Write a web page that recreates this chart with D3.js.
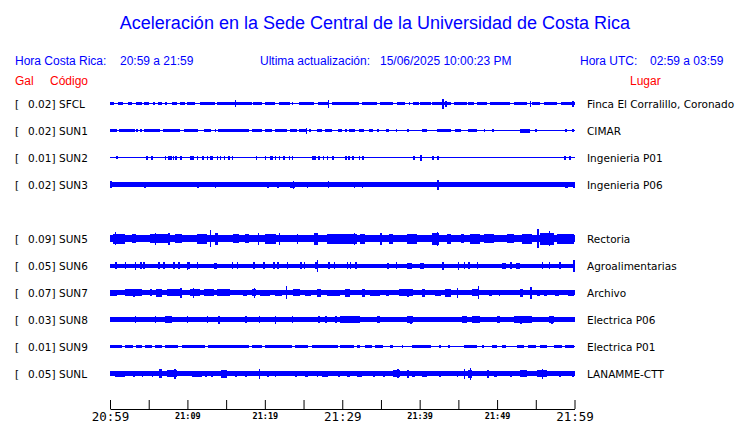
<!DOCTYPE html>
<html><head><meta charset="utf-8">
<script src="https://cdn.jsdelivr.net/npm/d3@7"></script>
<style>body{margin:0;background:#fff}svg{display:block}</style>
</head><body>
<svg id="c" width="740" height="423"></svg>
<script>
// ---------- data ----------
const title = "Aceleración en la Sede Central de la Universidad de Costa Rica";
const headerLabels = ["Hora Costa Rica:", "20:59 a 21:59", "Ultima actualización:", "15/06/2025 10:00:23 PM", "Hora UTC:", "02:59 a 03:59"];
const columnLabels = ["Gal", "Código", "Lugar"];
const codes  = ["SFCL","SUN1","SUN2","SUN3","SUN5","SUN6","SUN7","SUN8","SUN9","SUNL"];
const rowSlots = [0,1,2,3,5,6,7,8,9,10];   // slot 4 (SUN4) has no trace
const gal    = [0.02,0.02,0.01,0.02,0.09,0.05,0.07,0.03,0.01,0.05];
const places = ["Finca El Corralillo, Coronado","CIMAR","Ingenieria P01","Ingenieria P06","Rectoria","Agroalimentarias","Archivo","Electrica P06","Electrica P01","LANAMME-CTT"];
// continuous background amplitude of each trace (relative units)
const baseAmp = [0.5,0.5,0.6,2.2,3.8,2.0,2.2,2.8,0.8,2.2];
// activity: [start minute, end minute, amplitude] (minutes after 20:59)
const sfcl = [[0,0.5,1.6],[1.0,1.7,1.6],[2.3,2.9,1.6],[3.4,4.1,1.6],[4.4,5.0,1.6],[5.6,5.8,1.6],[6.25,6.7,1.6],[7.1,7.3,1.6],[8.0,8.6,1.6],[9.1,9.7,1.6],[9.9,11.0,1.6],[11.6,13.6,1.6],[13.8,18.3,1.6],[16.1,16.1,3.5],[18.5,19.6,1.6],[20.0,21.3,1.6],[21.8,23.3,1.6],[23.5,23.7,1.6],[24.4,26.3,1.6],[26.9,28.2,1.6],[28.1,28.1,4],[28.7,30.4,1.6],[29.7,32.1,1.6],[32.5,34.5,1.6],[34.9,36.6,1.6],[37.1,38.1,1.6],[38.6,38.8,1.6],[39.2,39.9,1.6],[40.1,41.4,1.6],[41.6,44.0,1.8],[42.9,42.9,5],[43.3,43.3,3],[44.4,46.1,1.6],[46.3,47.0,1.6],[47.4,48.7,1.6],[49.1,51.7,1.6],[52.2,53.9,1.6],[54.2,54.2,3],[54.5,55.6,1.6],[56.0,57.8,1.6],[58.2,60,1.6],[59.7,59.7,3]];
const sun1 = [[0,0.9,1.6],[1.1,3.2,1.6],[3.4,3.6,1.6],[3.9,4.1,1.6],[4.4,6.5,1.6],[6.9,9.1,1.6],[9.5,11.4,1.6],[12.1,13.1,1.6],[13.5,13.7,1.6],[14.0,17.9,1.6],[18.3,19.6,1.6],[20.0,20.9,1.6],[21.3,22.8,1.6],[23.3,24.1,1.6],[24.4,25.4,1.6],[25.3,25.3,3],[25.7,25.9,1.6],[26.7,27.4,1.6],[27.8,28.7,1.6],[29.5,30.0,1.6],[30.4,30.6,1.6],[30.9,31.7,1.6],[32.1,32.8,1.6],[33.4,34.0,1.6],[34.5,34.5,1.6],[35.7,36.0,1.6],[36.9,36.9,1.6],[38.4,38.4,1.6],[40.3,41.0,1.6],[42.2,44.0,1.6],[44.6,45.3,1.6],[46.3,47.4,1.6],[48.3,48.3,1.6],[49.4,49.6,1.6],[53.0,54.3,2],[54.9,55.2,1.6],[58.8,58.8,1.6],[59.7,59.7,1.6]];
const sun2 = [[0.8,1.0,1.5],[4.7,4.7,2],[5.3,5.3,2],[7.1,7.1,2],[7.5,7.5,2],[7.8,7.8,2],[8.1,8.1,2],[8.4,8.4,2],[9.1,9.1,2],[10.3,10.8,2],[11.2,11.2,2],[11.9,11.9,2],[12.5,12.5,2],[12.9,12.9,2],[13.1,13.1,2],[13.8,13.8,2],[14.2,14.2,2],[14.7,14.7,2],[15.3,15.3,2],[15.7,15.7,2],[18.8,18.8,2],[20.0,20.0,2],[20.7,20.7,2],[20.9,20.9,2],[21.3,21.3,2],[21.8,21.8,2],[22.4,22.4,2],[23.1,23.1,2],[23.5,23.5,2],[26.1,26.1,2],[26.4,26.4,2],[26.9,26.9,2],[27.5,27.5,2],[28.0,28.0,2],[28.7,28.7,2],[30.4,30.4,2],[30.8,30.8,2],[31.3,31.3,2],[32.1,32.1,2],[32.6,32.6,2],[39.2,39.2,2],[40.1,40.1,3],[41.6,41.6,2],[42.3,42.3,2],[58.7,58.7,2],[59.3,59.3,2]];
const sun3 = [[0,0,3.5],[4.4,4.4,3],[11.3,11.3,3],[13.5,13.5,3],[20.3,20.3,3],[21.6,21.6,3],[23.3,23.9,3],[23.6,23.6,4],[25.4,25.4,3],[28.1,28.1,3.5],[31.5,31.5,3],[32.5,32.5,3],[42.3,42.3,5],[58.8,59.1,3],[60,60,3]];
const sun5 = [[0.4,1.9,5],[0.6,0.6,6.5],[2.8,3.4,4.5],[5.2,7.7,4.5],[5.8,5.8,6],[7.5,7.5,6],[8.4,9.3,4.5],[11.2,12.5,5],[12.9,13.1,8.5],[13.6,14.0,6],[15.9,16.6,4.5],[17.5,17.9,4.5],[19.1,19.1,6],[20.0,21.5,5],[21.8,21.8,6],[24.1,24.1,5],[26.3,26.9,6],[28.0,29.7,5],[29.7,31.9,5],[31.5,31.5,6],[32.3,33.0,5],[34.9,34.9,6],[36.0,36.6,5],[38.4,39.6,5],[41.6,42.5,6],[42.2,42.2,7],[43.5,44.0,5],[45.3,45.7,4.5],[46.5,47.8,5],[48.3,49.6,4.5],[51.3,52.2,4.5],[53.2,54.5,5],[55.2,55.2,9.5],[55.6,57.3,6],[56.7,56.7,7.5],[57.8,59.9,5]];
const sun6 = [[0.65,0.65,3.5],[1.9,1.9,3.5],[3.2,3.2,4],[3.9,3.9,3.5],[4.3,4.3,3.5],[6.25,6.25,3.5],[6.9,6.9,3.5],[8.2,8.2,3.5],[8.8,8.8,3.5],[9.9,9.9,4],[10.1,10.1,3.5],[11.2,11.2,3.5],[13.4,13.8,3],[15.7,15.7,3.5],[16.4,16.4,3.5],[18.5,18.5,3.5],[19.8,19.8,3.5],[21.1,21.1,3.5],[21.6,21.6,3.5],[22.8,22.8,3.5],[24.6,24.6,3.5],[25.0,25.0,3.5],[26.5,26.9,3.5],[26.7,26.7,6],[28.2,28.2,3.5],[28.9,28.9,3.5],[30.6,30.6,3.5],[31.0,31.0,3.5],[31.7,31.7,3.5],[35.8,36.0,3],[36.9,36.9,3.5],[38.4,39.0,3],[40.1,40.5,3],[42.9,42.9,4],[44.9,44.9,4],[45.7,45.7,3.5],[46.3,46.3,3.5],[47.4,47.4,3.5],[50.6,51.1,3],[51.7,51.7,3.5],[52.4,53.0,3],[55.8,55.8,3.5],[56.7,56.7,3.5],[58.0,58.0,3.5],[59.9,60,6]];
const sun7 = [[0,0.9,3],[1.9,4.1,3.2],[3.0,3.0,4],[5.2,5.2,3.5],[6.0,6.7,4],[7.3,9.3,3.2],[9.1,9.1,5],[10.3,11.6,3.5],[10.7,10.7,5],[12.1,13.4,3.2],[13.8,15.5,3.2],[17.2,17.7,3],[18.3,18.8,3.5],[18.6,18.6,5],[19.4,20.7,3],[21.3,22.2,3],[22.7,22.7,6.5],[23.7,24.6,3.5],[25.2,25.9,3],[26.7,27.2,4],[28.0,29.7,3],[30.4,31.0,4],[32.5,33.0,4],[33.6,34.9,3],[35.6,36.0,3],[37.3,39.2,3.2],[38.4,38.4,4],[40.3,40.7,4],[42.0,42.7,3],[43.3,44.0,4],[44.8,45.0,5],[46.8,47.6,3.5],[47.5,47.5,6.5],[48.9,49.4,3],[50.2,50.4,3],[53.0,53.4,4],[54.3,54.3,6],[55.2,55.6,3],[56.0,56.4,3],[57.5,58.0,3],[59.1,59.9,3]];
const sun8 = [[3.2,3.2,3.5],[5.8,5.8,3.5],[7.1,8.0,3.2],[9.9,9.9,3.5],[12.5,12.5,3.5],[14.0,14.0,4],[17.5,17.5,3.5],[19.2,19.2,3.5],[21.3,21.3,4],[23.5,23.5,3.5],[26.9,26.9,3.5],[27.8,27.8,3.5],[29.1,29.1,3.5],[29.7,32.3,3.3],[32.1,32.1,3.5],[34.5,34.9,3.2],[38.4,39.2,3.5],[38.8,38.8,4],[45.5,46.1,3.2],[46.8,47.8,3.2],[50.0,50.4,3.2],[52.2,54.5,3.5],[53.0,53.0,4],[56.7,57.3,3.5],[57.0,57.0,4]];
const sun9 = [[0,1.5,1.5],[1.9,3.0,1.5],[3.4,4.1,1.5],[4.5,5.4,1.5],[5.8,6.7,1.5],[7.1,8.8,1.5],[9.3,12.3,1.5],[12.7,17.9,1.5],[18.3,19.6,1.5],[20.0,23.5,1.5],[23.9,25.6,1.5],[26.1,29.5,1.5],[29.7,31.5,1.5],[31.9,32.3,1.5],[33.0,33.8,1.5],[34.2,35.3,1.5],[36.2,36.6,1.5],[37.7,37.9,1.5],[39.0,41.4,1.5],[42.5,42.6,1.5],[43.7,43.8,1.5],[45.7,47.4,1.5],[48.0,48.3,1.5],[49.4,50.0,1.5],[50.6,51.1,1.5],[52.6,53.5,1.5],[54.0,55.0,1.5],[55.5,56.5,1.5],[57.3,58.4,1.5],[58.8,59.9,1.5]];
const sunl = [[0.6,1.9,3],[3.0,3.0,3],[4.1,4.1,3],[5.4,5.4,3],[6.3,6.7,4.5],[7.3,8.6,3.5],[8.3,8.3,5],[10.6,11.9,3],[12.3,12.3,3],[13.1,13.1,3],[14.4,15.1,4],[16.2,16.2,3],[17.5,17.5,3],[19.2,19.2,5],[20.3,20.3,3],[21.3,21.3,3],[23.9,23.9,3],[25.2,25.6,3],[26.7,26.7,3],[27.4,28.2,3],[29.5,29.5,3],[30.6,31.0,3],[31.9,32.5,3],[34.0,34.0,3],[35.3,35.3,3],[36.6,37.5,3.5],[37.1,37.1,4.5],[38.4,38.4,4],[39.0,39.4,3],[40.3,41.0,3],[42.5,42.5,3],[44.8,44.8,3],[45.7,45.7,5],[46.3,46.8,4],[46.5,46.5,6],[48.7,48.7,4],[49.6,50.0,3],[51.7,51.7,3],[53.0,53.9,3.5],[55.2,56.5,3.5],[55.8,55.8,5],[58.0,58.0,3],[59.7,59.7,3]];
const activity = [sfcl, sun1, sun2, sun3, sun5, sun6, sun7, sun8, sun9, sunl];
const tickTimes = ["20:59","21:04","21:09","21:14","21:19","21:24","21:29","21:34","21:39","21:44","21:49","21:54","21:59"];
const majorLabels = ["20:59","21:29","21:59"];
const minorLabels = ["21:09","21:19","21:39","21:49"];

// ---------- drawing ----------
const svg = d3.select("#c");
const BLUE = "#0000ff", RED = "#ff0000";
const sans = "'Liberation Sans', Arial, sans-serif";
const dv = "'DejaVu Sans', sans-serif";
const mono = "'DejaVu Sans Mono', monospace";

const parse = d3.timeParse("%H:%M");
const fmt = d3.timeFormat("%H:%M");
const tDates = tickTimes.map(parse);
const x0 = 110, x1 = 574.5;
const xTime = d3.scaleTime().domain([tDates[0], tDates[tDates.length-1]]).range([x0, x1]);
const xMin = d3.scaleLinear().domain([0, 60]).range([x0, x1]);
const yRow = d3.scaleLinear().domain([0, 10]).range([103.5, 373.5]);
const amp = d3.scaleLinear().domain([0, 10]).range([0, 10]);

svg.append("text").attr("x", 375).attr("y", 29).attr("text-anchor", "middle")
  .attr("font-family", sans).attr("font-size", 18).attr("fill", BLUE).text(title);

const headerX = [15, 120, 260, 380, 580, 650];
svg.selectAll("text.h").data(headerLabels).join("text").attr("class","h")
  .attr("x", (d,i) => headerX[i]).attr("y", 65)
  .attr("font-family", sans).attr("font-size", 12).attr("fill", BLUE).text(d => d);

const colX = [15, 50, 630];
svg.selectAll("text.col").data(columnLabels).join("text").attr("class","col")
  .attr("x", (d,i) => colX[i]).attr("y", 85)
  .attr("font-family", sans).attr("font-size", 12).attr("fill", RED).text(d => d);

const rows = svg.selectAll("g.row").data(codes).join("g").attr("class","row")
  .attr("transform", (d,i) => `translate(0,${yRow(rowSlots[i])})`);

const lblSize = 10.5;
rows.append("text").attr("x", 15).attr("y", 4).attr("font-family", dv).attr("font-size", lblSize).text("[");
rows.append("text").attr("x", 55.5).attr("y", 4).attr("text-anchor","end").attr("font-family", dv).attr("font-size", lblSize)
  .text((d,i) => d3.format(".2f")(gal[i]) + "]");
rows.append("text").attr("x", 59).attr("y", 4).attr("font-family", dv).attr("font-size", lblSize).text(d => d);
rows.append("text").attr("x", 587).attr("y", 4).attr("font-family", dv).attr("font-size", lblSize).text((d,i) => places[i]);

const traces = rows.append("g").attr("fill", BLUE).attr("shape-rendering", "crispEdges");
traces.append("rect")
  .attr("x", xMin(0)).attr("width", xMin(60) - xMin(0))
  .attr("y", (d,i) => -amp(baseAmp[i])).attr("height", (d,i) => 2*amp(baseAmp[i]));
traces.each(function(d,i){
  d3.select(this).selectAll("rect.ev").data(activity[i]).join("rect").attr("class","ev")
    .attr("x", e => Math.min(xMin(e[0]), xMin(60) - 1.5))
    .attr("width", e => Math.max(xMin(e[1]) - xMin(e[0]), 1.5))
    .attr("y", e => -amp(e[2])).attr("height", e => 2*amp(e[2]));
});

const axis = d3.axisBottom(xTime).tickValues(tDates).tickSize(-9).tickSizeOuter(0)
  .tickFormat(d => { const s = fmt(d); return (majorLabels.includes(s) || minorLabels.includes(s)) ? s : ""; });
const ag = svg.append("g").attr("transform", "translate(0,409)").call(axis);
ag.selectAll("path, line").attr("stroke", "#000");
const isMajor = d => majorLabels.includes(fmt(d));
ag.selectAll("text").attr("fill", "#000").attr("dy", null)
  .attr("font-family", mono)
  .attr("font-size", d => isMajor(d) ? 12.5 : 8.5)
  .attr("font-weight", d => isMajor(d) ? "normal" : "bold")
  .attr("y", d => isMajor(d) ? 12 : 10);
</script>
</body></html>
